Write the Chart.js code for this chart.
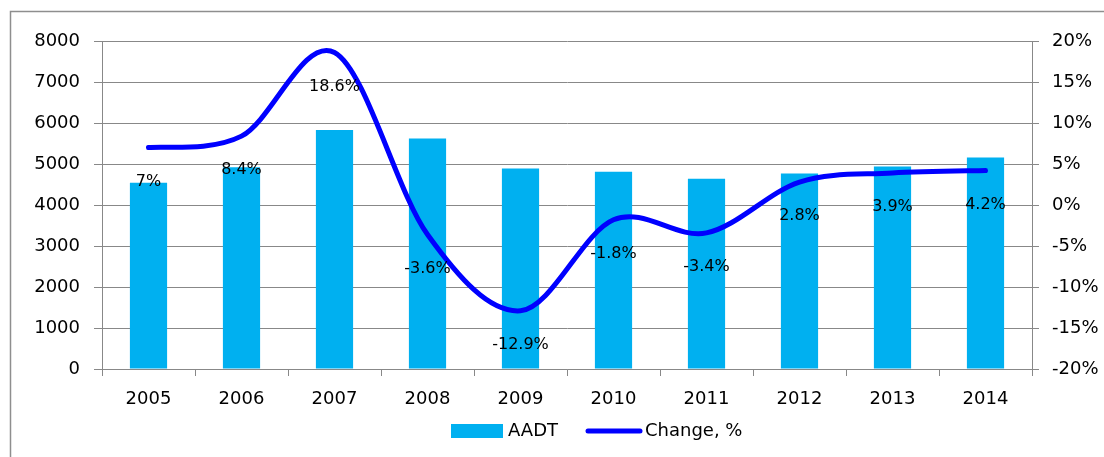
<!DOCTYPE html>
<html>
<head>
<meta charset="utf-8">
<script src="https://cdn.jsdelivr.net/npm/chart.js@4/dist/chart.umd.min.js"></script>
<style>
html,body{margin:0;padding:0;background:#fff;}
#wrap{width:1104px;height:457px;position:relative;}
</style>
</head>
<body>
<div id="wrap"><canvas id="c" width="1104" height="457"></canvas></div>
<script>
const years = ['2005','2006','2007','2008','2009','2010','2011','2012','2013','2014'];
const aadt = [4540, 4920, 5830, 5620, 4890, 4810, 4640, 4770, 4940, 5160];
const changePct = [7, 8.4, 18.6, -3.6, -12.9, -1.8, -3.4, 2.8, 3.9, 4.2];
const leftTicks = {min: 0, max: 8000, step: 1000};
const rightTicks = {min: -20, max: 20, step: 5};

const FONT = {family: 'DejaVu Sans', size: 18};
const LABEL_FONT_SIZE = 16;
const GRID = '#888888';

const bgBorder = {
  id: 'bgBorder',
  beforeDraw(chart) {
    const ctx = chart.ctx;
    ctx.save();
    ctx.fillStyle = '#fff';
    ctx.fillRect(0, 0, chart.width, chart.height);
    ctx.strokeStyle = '#8e8e8e';
    ctx.lineWidth = 1.5;
    ctx.strokeRect(10.5, 11.5, 3000, 3000);
    ctx.restore();
  }
};

// Excel-style smoothing: Catmull-Rom control points (1/6 of neighbour span)
const excelSmooth = {
  id: 'excelSmooth',
  beforeDatasetsDraw(chart) {
    const meta = chart.getDatasetMeta(1);
    const p = meta.data;
    const n = p.length;
    for (let i = 0; i < n; i++) {
      const prev = p[Math.max(0, i - 1)];
      const next = p[Math.min(n - 1, i + 1)];
      const dx = (next.x - prev.x) / 6;
      const dy = (next.y - prev.y) / 6;
      p[i].cp1x = p[i].x - dx;
      p[i].cp1y = p[i].y - dy;
      p[i].cp2x = p[i].x + dx;
      p[i].cp2y = p[i].y + dy;
    }
  }
};

const pctLabels = {
  id: 'pctLabels',
  afterDatasetsDraw(chart) {
    const meta = chart.getDatasetMeta(1);
    const ctx = chart.ctx;
    ctx.save();
    ctx.font = LABEL_FONT_SIZE + 'px ' + FONT.family;
    ctx.fillStyle = '#000';
    ctx.textAlign = 'center';
    ctx.textBaseline = 'middle';
    meta.data.forEach((pt, i) => {
      ctx.fillText(changePct[i] + '%', pt.x, pt.y + 34);
    });
    ctx.restore();
  }
};

const customLegend = {
  id: 'customLegend',
  afterDraw(chart) {
    const ctx = chart.ctx;
    const ds = chart.data.datasets;
    ctx.save();
    ctx.font = FONT.size + 'px ' + FONT.family;
    ctx.textBaseline = 'middle';
    const cy = 431;
    ctx.fillStyle = ds[0].backgroundColor;
    ctx.fillRect(451, 424, 52, 14);
    ctx.fillStyle = '#000';
    ctx.textAlign = 'left';
    ctx.fillText(ds[0].label, 508, cy);
    ctx.strokeStyle = ds[1].borderColor;
    ctx.lineWidth = 5;
    ctx.lineCap = 'round';
    ctx.beginPath();
    ctx.moveTo(588, cy);
    ctx.lineTo(640, cy);
    ctx.stroke();
    ctx.fillText(ds[1].label, 645, cy);
    ctx.restore();
  }
};

new Chart(document.getElementById('c'), {
  type: 'bar',
  data: {
    labels: years,
    datasets: [
      {
        label: 'AADT',
        data: aadt,
        backgroundColor: '#00B0F0',
        borderWidth: 0,
        yAxisID: 'y',
        categoryPercentage: 1,
        barPercentage: 0.4,
        order: 2
      },
      {
        type: 'line',
        label: 'Change, %',
        data: changePct,
        borderColor: '#0000FF',
        backgroundColor: '#0000FF',
        borderWidth: 5,
        borderCapStyle: 'round',
        borderJoinStyle: 'round',
        pointRadius: 0,
        tension: 0.4,
        yAxisID: 'y1',
        order: 1
      }
    ]
  },
  options: {
    responsive: false,
    animation: false,
    layout: {padding: {top: 41, bottom: 40, left: 0, right: 0}},
    plugins: {
      legend: {display: false},
      tooltip: {enabled: false}
    },
    scales: {
      x: {
        offset: true,
        grid: {display: true, drawOnChartArea: false, drawTicks: true, tickLength: 7, color: GRID, offset: true},
        border: {display: true, color: GRID, width: 1},
        ticks: {color: '#000', font: FONT, padding: 13, maxRotation: 0},
        afterFit(s) { s.height = 48; }
      },
      y: {
        position: 'left',
        min: leftTicks.min, max: leftTicks.max,
        grid: {color: GRID, tickLength: 8, lineWidth: 1},
        border: {display: true, color: GRID, width: 1},
        ticks: {stepSize: leftTicks.step, color: '#000', font: FONT, padding: 14,
          callback: v => String(v)},
        afterFit(s) { s.width = 102; }
      },
      y1: {
        position: 'right',
        min: rightTicks.min, max: rightTicks.max,
        grid: {drawOnChartArea: false, tickLength: 7, color: GRID},
        border: {display: true, color: GRID, width: 1},
        ticks: {stepSize: rightTicks.step, color: '#000', font: FONT, padding: 13,
          callback: v => v + '%'},
        afterFit(s) { s.width = 72; }
      }
    }
  },
  plugins: [bgBorder, excelSmooth, pctLabels, customLegend]
});
</script>
</body>
</html>
